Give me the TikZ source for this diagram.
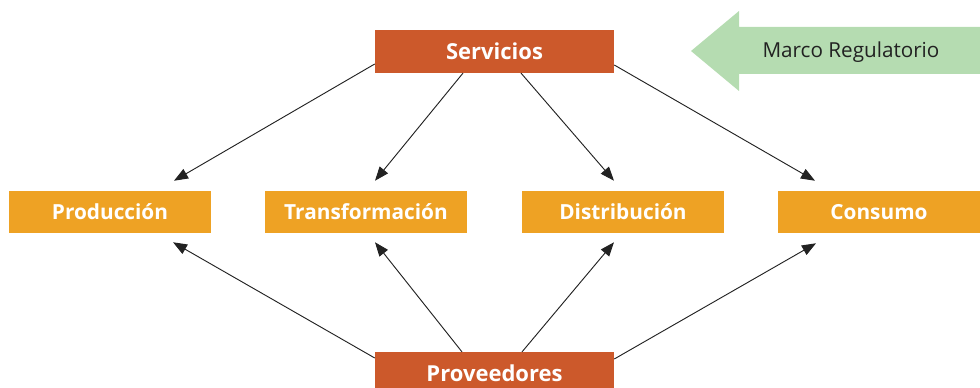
\documentclass[tikz,border=0pt]{standalone}
\usepackage{fontspec}
\setmainfont{Open Sans}
\usetikzlibrary{arrows.meta,calc}
\definecolor{darkor}{HTML}{CC592B}
\definecolor{lightor}{HTML}{EEA224}
\definecolor{greenar}{HTML}{B5DCB1}
\definecolor{linec}{HTML}{222222}
\begin{document}
\begin{tikzpicture}[x=0.75pt,y=-0.75pt,
  mainbox/.style={rectangle,fill=darkor,text=white,inner sep=0pt,minimum width=179.25pt,minimum height=32pt,font=\bfseries\fontsize{16.5}{20}\selectfont},
  stagebox/.style={rectangle,fill=lightor,text=white,inner sep=0pt,minimum width=151.5pt,minimum height=31.5pt,font=\bfseries\fontsize{15.6}{19}\selectfont},
  conn/.style={draw=linec,line width=0.7pt,-{Triangle[length=10.5pt,width=8pt]}}]
\useasboundingbox (0,0) rectangle (980,388);
\clip (0,0) rectangle (980,388);
% green arrow
\fill[greenar] (691,51) -- (739,11) -- (739,27) -- (980,27) -- (980,74) -- (739,74) -- (739,91) -- cycle;
\node[text=linec,font=\fontsize{15.5}{18}\selectfont] (marco) at (851,52) {Marco Regulatorio};
% main boxes
\node[mainbox] (serv) at (494.5,51.5) {Servicios};
\node[mainbox] (prov) at (494.5,373.5) {Proveedores};
% stages
\node[stagebox] (prod) at (110,212) {Producción};
\node[stagebox] (trans) at (366,212) {Transformación};
\node[stagebox] (dist) at (623,212) {Distribución};
\node[stagebox] (cons) at (879,212) {Consumo};
% arrows from Servicios
\draw[conn] ($(serv.west)+(0,12.5)$) -- ($(prod.north)+(64,-10)$);
\draw[conn] ($(serv.south)+(-31.5,0)$) -- ($(trans.north)+(9,-10)$);
\draw[conn] ($(serv.south)+(26.5,0)$) -- ($(dist.north)+(-9,-10)$);
\draw[conn] ($(serv.east)+(0,13.5)$) -- ($(cons.north)+(-64,-10)$);
% arrows from Proveedores
\draw[conn] ($(prov.west)+(0,-15.5)$) -- ($(prod.south)+(63,9)$);
\draw[conn] ($(prov.north)+(-32.5,0)$) -- ($(trans.south)+(9,9)$);
\draw[conn] ($(prov.north)+(27.5,0)$) -- ($(dist.south)+(-9,9)$);
\draw[conn] ($(prov.east)+(0,-14.5)$) -- ($(cons.south)+(-63,10)$);
\end{tikzpicture}
\end{document}
